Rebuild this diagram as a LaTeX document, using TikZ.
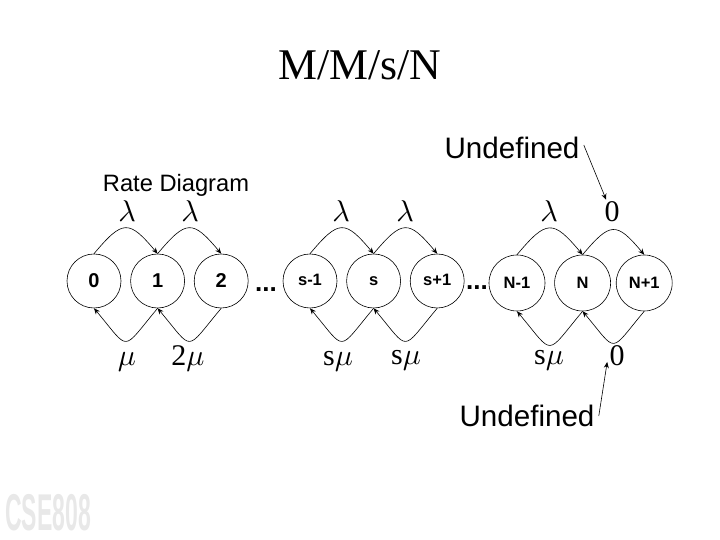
\documentclass[tikz,border=0pt]{standalone}
\usepackage{fontspec}
\setmainfont{Liberation Serif}
\setsansfont{Liberation Sans}
\DeclareFontShape{OML}{cmm}{m}{it}{<->cmmi10}{}
\usetikzlibrary{positioning,
	arrows.meta}
\tikzstyle{st}=[draw, circle, minimum size=54pt, inner sep=0, text height=12.3pt, text depth=0pt, font=\sffamily\bfseries\fontsize{20}{20}\selectfont]
\tikzstyle{stsm}=[st, text height=8.8pt, font=\sffamily\bfseries\fontsize{16.5}{17}\selectfont]
\tikzstyle{stbig}=[stsm, text height=11.8pt, minimum size=56pt]
\tikzstyle{tip}=[-{Stealth[length=6pt,width=5pt]}]
\tikzstyle{arcup}=[tip, out=50, in=130, looseness=1.8]
\tikzstyle{arcdn}=[tip, out=230, in=310, looseness=2.3]
\tikzstyle{rt}=[inner sep=0, anchor=base, font=\fontsize{30}{30}\selectfont]
\tikzstyle{lbl}=[inner sep=0, font=\sffamily\fontsize{29.6}{30}\selectfont]
\tikzstyle{dts}=[inner sep=0, anchor=base, font=\sffamily\bfseries\fontsize{26}{26}\selectfont]
\begin{document}
\begin{tikzpicture}[x=1pt,y=1pt,line width=0.6pt]
	\useasboundingbox (0,0) rectangle (720,540);
	% title and captions
	\node[inner sep=0, font=\fontsize{43.8}{44}\selectfont] (title) at (360,475) {M/M/s/N};
	\node[inner sep=0, font=\sffamily\fontsize{23.7}{24}\selectfont] (rate) at (176,355) {Rate Diagram};
	\node[inner sep=0, text=gray!18, yscale=2.25, font=\sffamily\bfseries\fontsize{23}{23}\selectfont] (mark) at (48,27) {CSE808};
	% states
	\node[st] (n0) at (94,259) {0};
	\node[st] (n1) [right=9pt of n0] {1};
	\node[st] (n2) [right=9pt of n1] {2};
	\node[stsm] (ns1) at (310,259) {s-1};
	\node[stsm] (ns) [right=9pt of ns1] {s};
	\node[stsm] (ns2) [right=9pt of ns] {s+1};
	\node[stbig] (nN1) at (517,257) {N-1};
	\node[stbig] (nN) [right=9pt of nN1] {N};
	\node[stbig] (nN2) [right=5pt of nN] {N+1};
	\node[dts] (dots1) at (266,248) {...};
	\node[dts] (dots2) at (477,250) {...};
	% arrival arcs
	\draw[arcup] (n0.north) to (n1.north);
	\draw[arcup] (n1.north) to (n2.north);
	\draw[arcup] (ns1.north) to (ns.north);
	\draw[arcup] (ns.north) to (ns2.north);
	\draw[arcup] (nN1.north) to (nN.north);
	\draw[arcup] (nN.north) to (nN2.north);
	% service arcs
	\draw[arcdn] (n1.south) to (n0.south);
	\draw[arcdn] (n2.south) to (n1.south);
	\draw[arcdn] (ns.south) to (ns1.south);
	\draw[arcdn] (ns2.south) to (ns.south);
	\draw[arcdn] (nN.south) to (nN1.south);
	\draw[arcdn] (nN2.south) to (nN.south);
	% rates
	\node[rt] (l1) at (127,318) {$\lambda$};
	\node[rt] (l2) at (190,318) {$\lambda$};
	\node[rt] (l3) at (341,318) {$\lambda$};
	\node[rt] (l4) at (405,318) {$\lambda$};
	\node[rt] (l5) at (549,318) {$\lambda$};
	\node[rt] (z1) at (612,318) {0};
	\node[rt] (m1) at (127,174) {$\mu$};
	\node[rt] (m2) at (188,174) {2$\mu$};
	\node[rt] (m3) at (338,174) {s$\mu$};
	\node[rt] (m4) at (406,175) {s$\mu$};
	\node[rt] (m5) at (549,175) {s$\mu$};
	\node[rt] (z2) at (617,174) {0};
	% undefined notes
	\node[lbl] (und1) at (512,392) {Undefined};
	\node[lbl] (und2) at (527,124) {Undefined};
	\draw[tip] (und1.east) ++(4pt,3pt) coordinate (a1) (a1) -- ([xshift=2pt,yshift=2pt]z1.north west);
	\draw[tip] (und2.east) ++(4pt,0pt) coordinate (a2) (a2) -- ([xshift=-2pt,yshift=4pt]z2.base west);
\end{tikzpicture}
\end{document}
